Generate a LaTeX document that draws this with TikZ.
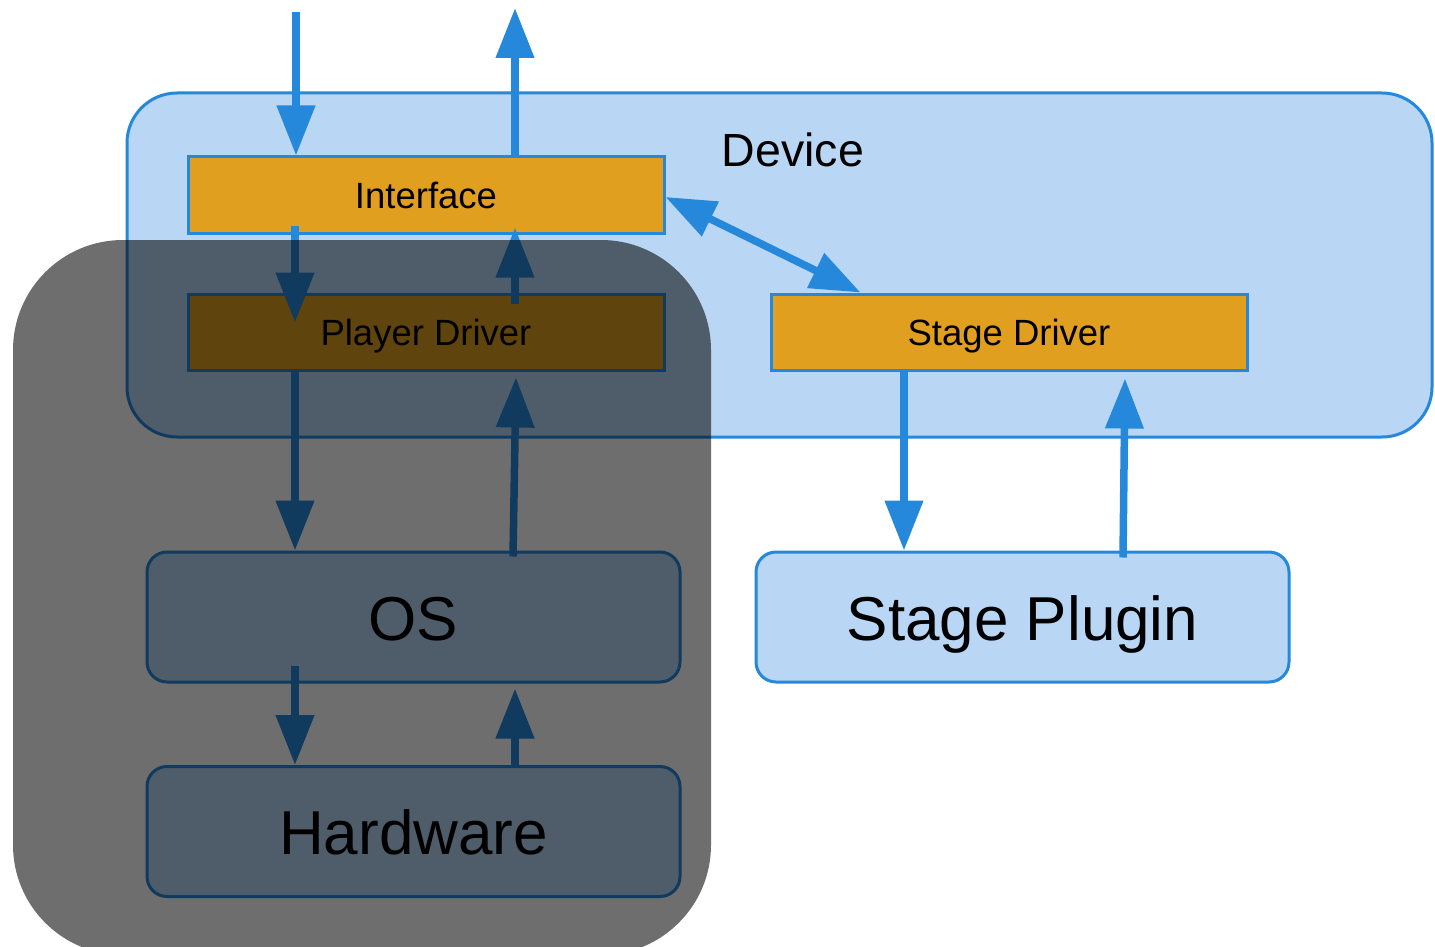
\documentclass[tikz,border=0pt]{standalone}
\usepackage{fontspec}
\setmainfont{Liberation Sans}
\usetikzlibrary{arrows.meta}
\definecolor{dblue}{HTML}{2688DB}
\definecolor{lblue}{HTML}{B9D7F5}
\definecolor{orng}{HTML}{E09F1F}
\begin{document}
\begin{tikzpicture}[x=1pt,y=-1pt,
  box/.style={draw=dblue, line width=3pt, fill=orng, inner sep=0pt,
    minimum width=476pt, minimum height=76pt,
    text height=26pt, text depth=0pt, font=\fontsize{36.5}{40}\selectfont},
  rbox/.style={draw=dblue, line width=3pt, fill=lblue, rounded corners=20pt, inner sep=0pt,
    minimum width=533pt, minimum height=130pt,
    text height=46pt, text depth=0pt, font=\fontsize{62}{70}\selectfont},
  conn/.style={draw=dblue, line width=7.5pt, -{Triangle[length=50pt,width=37pt]}},
  dconn/.style={draw=dblue, line width=7.5pt, {Triangle[length=50pt,width=37pt]}-{Triangle[length=50pt,width=37pt]}},
]
\useasboundingbox (0,0) rectangle (1435,947);

% Device container
\node[draw=dblue, line width=3pt, fill=lblue, rounded corners=50pt, inner sep=0pt,
      minimum width=1305pt, minimum height=344pt] (dev) at (779.5,265) {};
\node[anchor=base, inner sep=0pt, font=\fontsize{46.5}{50}\selectfont] (devlbl) at (793,167) {Device};

% boxes
\node[box] (iface) at (426,195) {Interface};
\node[box] (pdrv) at (426,332) {Player Driver};
\node[box] (sdrv) at (1009,332) {Stage Driver};
\node[rbox] (os) at (413.5,617) {OS};
\node[rbox] (hw) at (413.5,831.5) {Hardware};
\node[rbox] (plug) at (1022.5,617) {Stage Plugin};

% free ends
\coordinate (in1) at (296,12);
\coordinate (out1) at (515,8);

% connectors
\draw[conn] (in1) -- (in1 |- iface.north);
\draw[conn] (out1 |- iface.north) -- (out1);
\draw[conn] ([xshift=-131pt,yshift=9pt]iface.south) -- ([xshift=-131pt,yshift=-30pt]pdrv.north);
\draw[conn] ([xshift=89pt,yshift=-11pt]pdrv.north) -- ([xshift=89pt,yshift=7pt]iface.south);
\draw[conn] ([xshift=-131pt]pdrv.south) -- ([xshift=-118.5pt]os.north);
\draw[conn] ([xshift=99.5pt,yshift=-6pt]os.north) -- ([xshift=90pt,yshift=-6pt]pdrv.south);
\draw[conn] ([xshift=-118.5pt,yshift=18pt]os.south) -- ([xshift=-118.5pt]hw.north);
\draw[conn] ([xshift=101.5pt]hw.north) -- ([xshift=101.5pt,yshift=-5pt]os.south);
\draw[dconn] ([yshift=-2pt]iface.east) -- ([xshift=91pt]sdrv.north west);
\draw[conn] ([xshift=-105pt]sdrv.south) -- ([xshift=-118.5pt]plug.north);
\draw[conn] ([xshift=100.5pt,yshift=-7pt]plug.north) -- ([xshift=116pt,yshift=-7pt]sdrv.south);

% host overlay
\node[fill=black, fill opacity=0.57, rounded corners=110pt, inner sep=0pt,
      minimum width=698pt, minimum height=715pt] (host) at (362,597.5) {};
\end{tikzpicture}
\end{document}
